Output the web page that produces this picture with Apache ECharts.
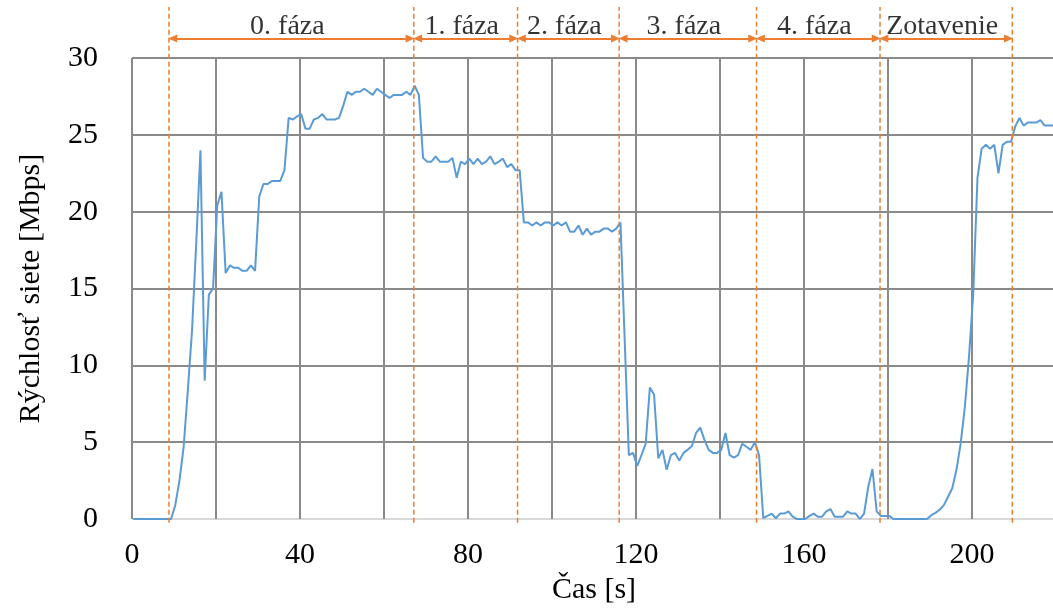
<!DOCTYPE html>
<html>
<head>
<meta charset="utf-8">
<script src="https://cdn.jsdelivr.net/npm/echarts@6/dist/echarts.min.js"></script>
<style>
  html, body { margin: 0; padding: 0; background: #ffffff; }
  #chart { width: 1053px; height: 614px; }
</style>
</head>
<body>
<div id="chart"></div>
<script>
// Measured network throughput [Mbps], one sample per second.
const speed = [
  0, 0, 0, 0, 0, 0, 0, 0, 0, 0,
  0.9, 2.5, 4.7, 8.4, 12.3, 18.0, 24.0, 9.0, 14.6, 15.0,
  20.4, 21.3, 16.0, 16.5, 16.35, 16.35, 16.15, 16.15, 16.5, 16.15,
  21.0, 21.8, 21.8, 22.0, 22.0, 22.0, 22.7, 26.1, 26.0, 26.2,
  26.35, 25.4, 25.4, 26.0, 26.1, 26.35, 26.0, 26.0, 26.0, 26.1,
  26.9, 27.8, 27.6, 27.8, 27.8, 28.0, 27.8, 27.6, 28.0, 27.8,
  27.6, 27.4, 27.6, 27.6, 27.6, 27.8, 27.6, 28.2, 27.6, 23.5,
  23.25, 23.25, 23.6, 23.25, 23.25, 23.25, 23.5, 22.2, 23.25, 23.1,
  23.45, 23.1, 23.45, 23.1, 23.25, 23.6, 23.1, 23.25, 23.45, 22.9,
  23.1, 22.7, 22.7, 19.3, 19.3, 19.1, 19.3, 19.1, 19.3, 19.3,
  19.1, 19.3, 19.1, 19.3, 18.7, 18.7, 19.1, 18.5, 18.9, 18.5,
  18.7, 18.7, 18.9, 18.9, 18.7, 18.9, 19.3, 11.7, 4.15, 4.3,
  3.45, 4.15, 4.9, 8.55, 8.1, 3.95, 4.5, 3.2, 4.15, 4.3,
  3.8, 4.3, 4.5, 4.75, 5.6, 5.95, 5.15, 4.5, 4.3, 4.3,
  4.5, 5.6, 4.15, 4.0, 4.15, 4.9, 4.7, 4.5, 5.0, 4.15,
  0.05, 0.2, 0.35, 0.05, 0.35, 0.35, 0.5, 0.15, 0, 0,
  0, 0.2, 0.35, 0.15, 0.15, 0.5, 0.65, 0.15, 0.15, 0.15,
  0.5, 0.35, 0.35, 0, 0.35, 2.1, 3.25, 0.5, 0.2, 0.2,
  0.2, 0, 0, 0, 0, 0, 0, 0, 0, 0,
  0.25, 0.4, 0.6, 0.9, 1.45, 2.0, 3.2, 4.9, 7.3, 10.6,
  14.7, 22.2, 24.1, 24.35, 24.1, 24.35, 22.5, 24.35, 24.55, 24.55,
  25.55, 26.1, 25.6, 25.8, 25.8, 25.8, 25.95, 25.6, 25.6, 25.6
];

// Time of the first sample [s]
const firstSampleTime = 0.3;

// Phase boundaries [s] and phase names
const phaseBounds = [8.8, 67.1, 91.8, 116.0, 148.7, 178.1, 209.6];
const phaseNames = ['0. fáza', '1. fáza', '2. fáza', '3. fáza', '4. fáza', 'Zotavenie'];

// Axis labels
const xTickLabels = [0, 40, 80, 120, 160, 200];
const yTickLabels = [0, 5, 10, 15, 20, 25, 30];

const FONT = "'Liberation Serif', 'Times New Roman', serif";
const ORANGE = '#ED7D31';
const BLUE = '#5B9BD5';
const GRID_GRAY = '#8a8a8a';

const X_MAX = 220;
const Y_MAX = 30;
const HEADER_TOP = 33.32;   // top of the header band (same scale as the y axis)
const ARROW_Y = 31.27;
const LABEL_Y = 32.02;
const ARROW_GAP = 0.9;

const points = speed.map((v, i) => [firstSampleTime + i, v]);

const chart = echarts.init(document.getElementById('chart'), null, { renderer: 'canvas' });

// Dashed phase boundaries, running from the x axis up through the header band
const boundarySeries = phaseBounds.map(b => ({
  type: 'line',
  xAxisIndex: 0,
  yAxisIndex: 0,
  clip: false,
  silent: true,
  showSymbol: false,
  symbol: 'none',
  z: 5,
  lineStyle: { color: ORANGE, width: 1.5, type: [5, 3] },
  data: [[b, -0.25], [b, HEADER_TOP]]
}));

// Double-headed arrows spanning each phase
const arrowData = phaseNames.map((_, i) => [
  { coord: [phaseBounds[i] + ARROW_GAP, ARROW_Y] },
  { coord: [phaseBounds[i + 1] - ARROW_GAP, ARROW_Y] }
]);

const labelData = phaseNames.map((name, i) => ({
  name: name,
  value: [(phaseBounds[i] + phaseBounds[i + 1]) / 2, LABEL_Y]
}));

chart.setOption({
  animation: false,
  backgroundColor: '#ffffff',
  textStyle: { fontFamily: FONT },
  grid: [
    { left: 132, top: 58, right: -3, height: 461, containLabel: false, outerBoundsMode: 'none' },
    { left: 132, top: 7, right: -3, height: 51, containLabel: false, outerBoundsMode: 'none' }
  ],
  xAxis: [
    {
      type: 'value',
      gridIndex: 0,
      min: 0,
      max: X_MAX,
      interval: 20,
      axisLine: { show: false },
      axisTick: { show: false },
      splitLine: { show: true, lineStyle: { color: GRID_GRAY, width: 2 } },
      axisLabel: {
        color: '#000',
        fontFamily: FONT,
        fontSize: 30,
        margin: 21,
        formatter: v => (xTickLabels.indexOf(v) >= 0 ? String(v) : '')
      },
      name: 'Čas [s]',
      nameLocation: 'middle',
      nameGap: 37,
      nameTextStyle: { color: '#000', fontFamily: FONT, fontSize: 30 }
    },
    { type: 'value', gridIndex: 1, min: 0, max: X_MAX, show: false }
  ],
  yAxis: [
    {
      type: 'value',
      gridIndex: 0,
      min: 0,
      max: Y_MAX,
      interval: 5,
      axisLine: { show: false },
      axisTick: { show: false },
      splitLine: {
        show: true,
        lineStyle: {
          color: ['#d9d9d9', GRID_GRAY, GRID_GRAY, GRID_GRAY, GRID_GRAY, GRID_GRAY, GRID_GRAY],
          width: 2
        }
      },
      axisLabel: {
        color: '#000',
        fontFamily: FONT,
        fontSize: 30,
        margin: 34,
        formatter: v => (yTickLabels.indexOf(v) >= 0 ? String(v) : '')
      },
      name: 'Rýchlosť siete [Mbps]',
      nameLocation: 'middle',
      nameGap: 86,
      nameRotate: 90,
      nameTextStyle: { color: '#000', fontFamily: FONT, fontSize: 30 }
    },
    { type: 'value', gridIndex: 1, min: Y_MAX, max: HEADER_TOP, show: false }
  ],
  series: [
    {
      name: 'Rýchlosť siete',
      type: 'line',
      xAxisIndex: 0,
      yAxisIndex: 0,
      showSymbol: false,
      symbol: 'none',
      z: 3,
      lineStyle: { color: BLUE, width: 2 },
      data: points
    },
    ...boundarySeries,
    {
      name: 'Fázy',
      type: 'scatter',
      xAxisIndex: 1,
      yAxisIndex: 1,
      symbolSize: 0,
      silent: true,
      z: 6,
      label: {
        show: true,
        position: 'inside',
        offset: [-4, 0],
        formatter: '{b}',
        color: '#000',
        fontFamily: FONT,
        fontSize: 28
      },
      data: labelData,
      markLine: {
        silent: true,
        animation: false,
        symbol: ['triangle', 'triangle'],
        symbolSize: [8, 9],
        label: { show: false },
        lineStyle: { color: ORANGE, width: 2, type: 'solid' },
        itemStyle: { color: ORANGE },
        emphasis: { disabled: true },
        data: arrowData
      }
    }
  ]
});
</script>
</body>
</html>
